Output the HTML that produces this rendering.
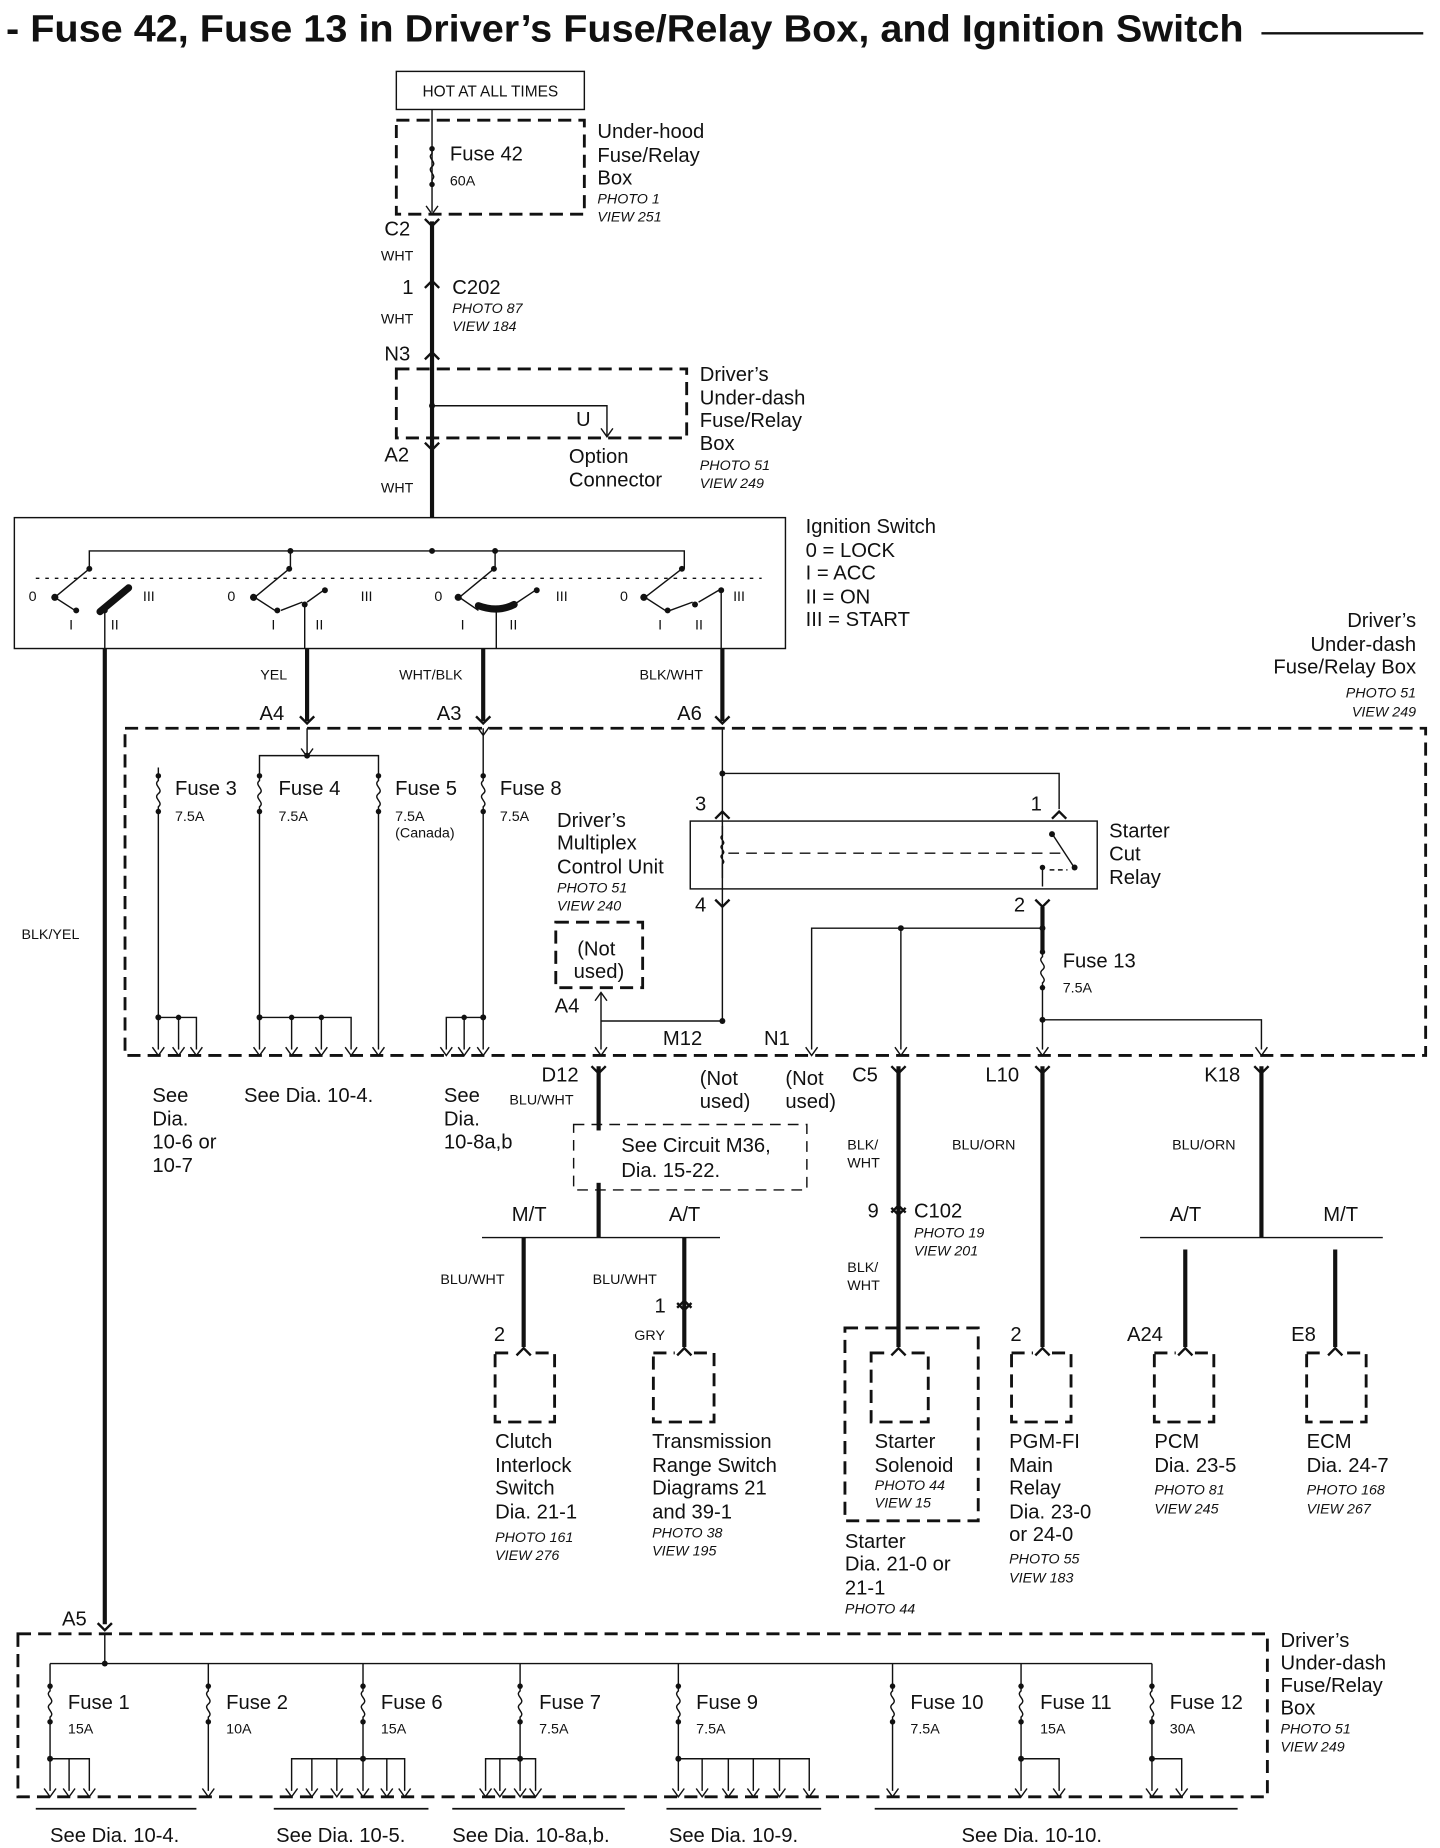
<!DOCTYPE html>
<html><head><meta charset="utf-8"><style>
html,body{margin:0;padding:0;background:#fff}
svg{display:block}
text{font-family:"Liberation Sans",Arial,sans-serif;fill:#111}
.l{font-size:17px}.s{font-size:12px}.i{font-size:12px;font-style:italic}
.tk{stroke:#111;stroke-width:3.5;fill:none}
.tn{stroke:#111;stroke-width:1.2;fill:none}
.ds{stroke:#111;stroke-width:2.4;fill:none;stroke-dasharray:11,6}
.ds2{stroke:#111;stroke-width:1.2;fill:none;stroke-dasharray:9,6}
</style></head><body>
<svg width="1440" height="1848" viewBox="0 0 1210 1553" xmlns="http://www.w3.org/2000/svg">
<defs>
<g id="fz"><circle cx="0" cy="0" r="2.3" fill="#111"/><path d="M0,0 v4 c-5,4 5,7 0,11 c-5,4 5,7 0,11 v4" stroke="#111" stroke-width="1.2" fill="none"/><circle cx="0" cy="30" r="2.3" fill="#111"/></g>
<path id="ar" d="M-5,-7 L0,0 L5,-7" stroke="#111" stroke-width="1.2" fill="none"/>
<path id="fm" d="M-6,-6 L0,0 L6,-6" stroke="#111" stroke-width="2" fill="none"/>
<path id="ml" d="M-6,6 L0,0 L6,6" stroke="#111" stroke-width="2" fill="none"/>
<circle id="dt" r="2.5" fill="#111"/>
</defs>

<!-- title -->
<text x="5" y="35" textLength="1040" lengthAdjust="spacingAndGlyphs" style="font-size:32px;font-weight:bold">- Fuse 42, Fuse 13 in Driver’s Fuse/Relay Box, and Ignition Switch</text>
<line x1="1060" y1="28" x2="1196" y2="28" stroke="#111" stroke-width="2"/>

<!-- HOT -->
<rect x="333" y="60" width="158" height="32" class="tn" stroke-width="1.6"/>
<text x="412" y="81" text-anchor="middle" class="s" style="font-size:13px">HOT AT ALL TIMES</text>
<rect x="333" y="101" width="158" height="79" class="ds"/>
<line x1="363" y1="92" x2="363" y2="178" class="tn"/>
<use href="#fz" x="363" y="125"/>
<use href="#ar" x="363" y="180"/>
<text x="378" y="135" class="l">Fuse 42</text><text x="378" y="156" class="s">60A</text>
<text x="502" y="116" class="l">Under-hood</text><text x="502" y="136" class="l">Fuse/Relay</text><text x="502" y="155" class="l">Box</text>
<text x="502" y="171" class="i">PHOTO 1</text><text x="502" y="186" class="i">VIEW 251</text>

<line x1="363" y1="186" x2="363" y2="435" class="tk"/>
<use href="#fm" x="363" y="190"/>
<text x="323" y="198" class="l">C2</text>
<text x="320" y="219" class="s">WHT</text>
<use href="#ml" x="363" y="236"/>
<text x="338" y="247" class="l">1</text>
<text x="380" y="247" class="l">C202</text><text x="380" y="263" class="i">PHOTO 87</text><text x="380" y="278" class="i">VIEW 184</text>
<text x="320" y="272" class="s">WHT</text>
<text x="323" y="303" class="l">N3</text>
<use href="#ml" x="363" y="296"/>

<rect x="333" y="310" width="244" height="58" class="ds"/>
<use href="#dt" x="363" y="341"/>
<polyline points="363,341 510,341 510,366" class="tn"/>
<use href="#ar" x="510" y="367"/>
<text x="484" y="358" class="l">U</text>
<use href="#fm" x="363" y="378"/>
<text x="588" y="320" class="l">Driver’s</text><text x="588" y="340" class="l">Under-dash</text><text x="588" y="359" class="l">Fuse/Relay</text><text x="588" y="378" class="l">Box</text>
<text x="588" y="395" class="i">PHOTO 51</text><text x="588" y="410" class="i">VIEW 249</text>
<text x="478" y="389" class="l">Option</text><text x="478" y="409" class="l">Connector</text>
<text x="323" y="388" class="l">A2</text><text x="320" y="414" class="s">WHT</text>

<!-- ignition switch -->
<rect x="12" y="435" width="648" height="110" class="tn" stroke-width="2.4"/>
<polyline points="75,478 75,463 575,463 575,478" class="tn"/>
<line x1="244" y1="463" x2="244" y2="478" class="tn"/><line x1="416" y1="463" x2="416" y2="478" class="tn"/>
<g fill="#111">
<circle cx="244" cy="463" r="2.5"/><circle cx="363" cy="463" r="2.5"/><circle cx="416" cy="463" r="2.5"/>
</g>
<line x1="30" y1="486" x2="640" y2="486" class="tn" stroke-dasharray="3,5" stroke-width="0.8"/>
<g class="tn">
<line x1="75" y1="478" x2="46" y2="502"/><line x1="46" y1="502" x2="63" y2="513"/>
<line x1="243" y1="478" x2="214" y2="502"/><line x1="214" y1="502" x2="231" y2="513"/><line x1="236" y1="513" x2="254" y2="506"/><line x1="258" y1="506" x2="272" y2="496"/>
<line x1="415" y1="478" x2="386" y2="502"/><line x1="386" y1="502" x2="402" y2="513"/><line x1="432" y1="508" x2="450" y2="496"/>
<line x1="573" y1="478" x2="542" y2="502"/><line x1="542" y1="502" x2="559" y2="513"/><line x1="563" y1="513" x2="582" y2="506"/><line x1="587" y1="506" x2="604" y2="496"/>
</g>
<g fill="#111">
<circle cx="75" cy="478" r="2.5"/><circle cx="46" cy="502" r="3"/><circle cx="64" cy="513" r="2.5"/><circle cx="88" cy="513" r="2.5"/>
<circle cx="243" cy="478" r="2.5"/><circle cx="213" cy="502" r="3"/><circle cx="233" cy="513" r="2.5"/><circle cx="256" cy="508" r="2.5"/><circle cx="273" cy="496" r="2.5"/>
<circle cx="415" cy="478" r="2.5"/><circle cx="385" cy="502" r="3"/><circle cx="451" cy="496" r="2.5"/>
<circle cx="573" cy="478" r="2.5"/><circle cx="541" cy="502" r="3"/><circle cx="561" cy="513" r="2.5"/><circle cx="584" cy="508" r="2.5"/><circle cx="606" cy="496" r="2.5"/>
</g>
<path d="M84,514 Q96,504 108,494" stroke="#111" stroke-width="6" fill="none" stroke-linecap="round"/>
<path d="M402,509 Q418,515 432,508" stroke="#111" stroke-width="6" fill="none" stroke-linecap="round"/>
<g class="s" style="font-size:12px">
<text x="24" y="505">0</text><text x="58" y="529">I</text><text x="93" y="529">II</text><text x="120" y="505">III</text>
<text x="191" y="505">0</text><text x="228" y="529">I</text><text x="265" y="529">II</text><text x="303" y="505">III</text>
<text x="365" y="505">0</text><text x="387" y="529">I</text><text x="428" y="529">II</text><text x="467" y="505">III</text>
<text x="521" y="505">0</text><text x="553" y="529">I</text><text x="584" y="529">II</text><text x="616" y="505">III</text>
</g>
<line x1="88" y1="513" x2="88" y2="545" class="tn"/><line x1="256" y1="508" x2="256" y2="545" class="tn"/>
<line x1="417" y1="512" x2="417" y2="545" class="tn"/><line x1="606" y1="496" x2="606" y2="545" class="tn"/>
<text x="677" y="448" class="l">Ignition Switch</text><text x="677" y="468" class="l">0  = LOCK</text>
<text x="677" y="487" class="l">I   = ACC</text><text x="677" y="507" class="l">II  = ON</text><text x="677" y="526" class="l">III = START</text>
<g text-anchor="end"><text x="1190" y="527" class="l">Driver’s</text><text x="1190" y="547" class="l">Under-dash</text><text x="1190" y="566" class="l">Fuse/Relay Box</text>
<text x="1190" y="586" class="i">PHOTO 51</text><text x="1190" y="602" class="i">VIEW 249</text></g>

<line x1="88" y1="545" x2="88" y2="1365" class="tk"/>
<line x1="258" y1="545" x2="258" y2="606" class="tk"/>
<line x1="406" y1="545" x2="406" y2="606" class="tk"/>
<line x1="607" y1="545" x2="607" y2="606" class="tk"/>
<use href="#fm" x="258" y="608"/><use href="#fm" x="406" y="608"/><use href="#fm" x="607" y="608"/>
<text x="230" y="571" class="s" text-anchor="middle">YEL</text><text x="362" y="571" class="s" text-anchor="middle">WHT/BLK</text><text x="564" y="571" class="s" text-anchor="middle">BLK/WHT</text>
<text x="218" y="605" class="l">A4</text><text x="367" y="605" class="l">A3</text><text x="569" y="605" class="l">A6</text>
<text x="18" y="789" class="s">BLK/YEL</text>

<rect x="105" y="612" width="1093" height="275" class="ds"/>
<g class="tn">
<line x1="133" y1="645" x2="133" y2="855"/><polyline points="133,855 165,855 165,882"/><line x1="150" y1="855" x2="150" y2="882"/><line x1="133" y1="855" x2="133" y2="882"/>
<line x1="258" y1="612" x2="258" y2="635"/><polyline points="218,855 218,635 318,635 318,882"/>
<polyline points="218,855 295,855 295,882"/><line x1="218" y1="855" x2="218" y2="882"/><line x1="245" y1="855" x2="245" y2="882"/><line x1="270" y1="855" x2="270" y2="882"/>
<line x1="406" y1="612" x2="406" y2="882"/><polyline points="406,855 375,855 375,882"/><line x1="390" y1="855" x2="390" y2="882"/>
</g>
<g fill="#fff"><rect x="128" y="652" width="10" height="30"/><rect x="213" y="652" width="10" height="30"/><rect x="313" y="652" width="10" height="30"/><rect x="401" y="652" width="10" height="30"/></g>
<use href="#fz" x="133" y="652"/><use href="#fz" x="218" y="652"/><use href="#fz" x="318" y="652"/><use href="#fz" x="406" y="652"/>
<g fill="#111"><circle cx="258" cy="635" r="2.5"/><circle cx="133" cy="855" r="2.5"/><circle cx="150" cy="855" r="2.3"/><circle cx="218" cy="855" r="2.5"/><circle cx="245" cy="855" r="2.3"/><circle cx="270" cy="855" r="2.3"/><circle cx="406" cy="855" r="2.5"/><circle cx="390" cy="855" r="2.3"/></g>
<use href="#ar" x="258" y="636"/><use href="#ar" x="406" y="618"/>
<g><use href="#ar" x="133" y="887"/><use href="#ar" x="150" y="887"/><use href="#ar" x="165" y="887"/><use href="#ar" x="218" y="887"/><use href="#ar" x="245" y="887"/><use href="#ar" x="270" y="887"/><use href="#ar" x="295" y="887"/><use href="#ar" x="318" y="887"/><use href="#ar" x="375" y="887"/><use href="#ar" x="390" y="887"/><use href="#ar" x="406" y="887"/></g>
<text x="147" y="668" class="l">Fuse 3</text><text x="147" y="690" class="s">7.5A</text>
<text x="234" y="668" class="l">Fuse 4</text><text x="234" y="690" class="s">7.5A</text>
<text x="332" y="668" class="l">Fuse 5</text><text x="332" y="690" class="s">7.5A</text><text x="332" y="704" class="s">(Canada)</text>
<text x="420" y="668" class="l">Fuse 8</text><text x="420" y="690" class="s">7.5A</text>
<text x="468" y="695" class="l">Driver’s</text><text x="468" y="714" class="l">Multiplex</text><text x="468" y="734" class="l">Control Unit</text>
<text x="468" y="750" class="i">PHOTO 51</text><text x="468" y="765" class="i">VIEW 240</text>
<rect x="467" y="775" width="73" height="55" class="ds" stroke-width="2"/>
<text x="485" y="803" class="l">(Not</text><text x="482" y="822" class="l">used)</text>
<text x="466" y="851" class="l">A4</text>
<line x1="505" y1="834" x2="505" y2="882" class="tn"/><use href="#ar" x="505" y="840" transform="rotate(180 505 837)"/>
<polyline points="505,858 607,858 607,612" class="tn"/>
<use href="#dt" x="607" y="858"/><use href="#ar" x="505" y="887"/>
<text x="557" y="878" class="l">M12</text><text x="642" y="878" class="l">N1</text>
<use href="#dt" x="607" y="650"/>
<polyline points="607,650 890,650 890,680" class="tn"/>
<use href="#ml" x="890" y="682"/><use href="#ml" x="607" y="682"/>
<text x="584" y="681" class="l">3</text><text x="866" y="681" class="l">1</text>
<rect x="580" y="690" width="342" height="57" class="tn" stroke-width="3"/>
<path d="M607,694 v8 c-4,3 4,5 0,8 c-4,3 4,5 0,8 c-4,3 4,5 0,8 v12" class="tn"/>
<line x1="612" y1="717" x2="892" y2="717" class="ds2" stroke-width="0.9"/>
<line x1="885" y1="702" x2="902" y2="728" class="tn" stroke-width="1.6"/><circle cx="903" cy="729" r="2.5" fill="#111"/><circle cx="884" cy="701" r="2.5" fill="#111"/>
<line x1="876" y1="729" x2="876" y2="745" class="tn"/><circle cx="876" cy="729" r="2.3" fill="#111"/><line x1="882" y1="731" x2="897" y2="731" class="tn" stroke-dasharray="4,3"/>
<use href="#fm" x="607" y="762"/><use href="#fm" x="876" y="762"/>
<text x="584" y="766" class="l">4</text><text x="852" y="766" class="l">2</text>
<text x="932" y="704" class="l">Starter</text><text x="932" y="723" class="l">Cut</text><text x="932" y="743" class="l">Relay</text>
<line x1="876" y1="762" x2="876" y2="800" class="tk" stroke-width="2"/>
<use href="#fz" x="876" y="800"/>
<line x1="876" y1="830" x2="876" y2="882" class="tn"/>
<polyline points="682,882 682,780 876,780" class="tn"/>
<line x1="757" y1="780" x2="757" y2="882" class="tn" stroke-width="1.6"/>
<polyline points="876,857 1060,857 1060,882" class="tn"/>
<g fill="#111"><circle cx="757" cy="780" r="2.5"/><circle cx="876" cy="780" r="2.5"/><circle cx="876" cy="857" r="2.5"/></g>
<use href="#ar" x="682" y="887"/><use href="#ar" x="757" y="887"/><use href="#ar" x="876" y="887"/><use href="#ar" x="1060" y="887"/>
<text x="893" y="813" class="l">Fuse 13</text><text x="893" y="834" class="s">7.5A</text>

<text x="128" y="926" class="l">See</text><text x="128" y="946" class="l">Dia.</text><text x="128" y="965" class="l">10-6 or</text><text x="128" y="985" class="l">10-7</text>
<text x="205" y="926" class="l">See  Dia.  10-4.</text>
<text x="373" y="926" class="l">See</text><text x="373" y="946" class="l">Dia.</text><text x="373" y="965" class="l">10-8a,b</text>

<line x1="503" y1="896" x2="503" y2="1040" class="tk"/><use href="#fm" x="503" y="902"/>
<text x="455" y="909" class="l">D12</text><text x="428" y="928" class="s">BLU/WHT</text>
<text x="588" y="912" class="l">(Not</text><text x="588" y="931" class="l">used)</text>
<text x="660" y="912" class="l">(Not</text><text x="660" y="931" class="l">used)</text>
<text x="716" y="909" class="l">C5</text><text x="828" y="909" class="l">L10</text><text x="1012" y="909" class="l">K18</text>
<rect x="482" y="945" width="196" height="55" class="ds2"/>
<rect x="498" y="950" width="10" height="44" fill="#fff"/>
<text x="522" y="968" class="l">See Circuit M36,</text><text x="522" y="989" class="l">Dia.  15-22.</text>
<text x="430" y="1026" class="l">M/T</text><text x="562" y="1026" class="l">A/T</text>
<line x1="405" y1="1040" x2="605" y2="1040" class="tn" stroke-width="2"/>
<line x1="440" y1="1040" x2="440" y2="1138" class="tk"/>
<line x1="575" y1="1040" x2="575" y2="1138" class="tk"/>
<use href="#ml" x="575" y="1093"/><use href="#fm" x="575" y="1101"/>
<text x="370" y="1079" class="s">BLU/WHT</text><text x="498" y="1079" class="s">BLU/WHT</text>
<text x="550" y="1103" class="l">1</text><text x="533" y="1126" class="s">GRY</text><text x="415" y="1127" class="l">2</text>

<line x1="755" y1="896" x2="755" y2="1138" class="tk"/><use href="#fm" x="755" y="902"/>
<use href="#ml" x="755" y="1013"/><use href="#fm" x="755" y="1021"/>
<text x="712" y="966" class="s">BLK/</text><text x="712" y="981" class="s">WHT</text>
<text x="729" y="1023" class="l">9</text><text x="768" y="1023" class="l">C102</text><text x="768" y="1040" class="i">PHOTO 19</text><text x="768" y="1055" class="i">VIEW 201</text>
<text x="712" y="1069" class="s">BLK/</text><text x="712" y="1084" class="s">WHT</text>
<line x1="876" y1="896" x2="876" y2="1138" class="tk"/><use href="#fm" x="876" y="902"/>
<text x="800" y="966" class="s">BLU/ORN</text><text x="849" y="1127" class="l">2</text>
<line x1="1060" y1="896" x2="1060" y2="1040" class="tk"/><use href="#fm" x="1060" y="902"/>
<text x="985" y="966" class="s">BLU/ORN</text>
<text x="983" y="1026" class="l">A/T</text><text x="1112" y="1026" class="l">M/T</text>
<line x1="958" y1="1040" x2="1162" y2="1040" class="tn" stroke-width="2"/>
<line x1="996" y1="1050" x2="996" y2="1138" class="tk"/><line x1="1122" y1="1050" x2="1122" y2="1138" class="tk"/>
<text x="947" y="1127" class="l">A24</text><text x="1085" y="1127" class="l">E8</text>

<g class="ds" stroke-width="2">
<rect x="416" y="1137" width="50" height="58"/><rect x="549" y="1137" width="51" height="58"/>
<rect x="732" y="1137" width="48" height="58"/><rect x="850" y="1137" width="50" height="58"/>
<rect x="970" y="1137" width="50" height="58"/><rect x="1098" y="1137" width="50" height="58"/>
<rect x="710" y="1116" width="112" height="162"/>
</g>
<g fill="#fff"><rect x="432" y="1132" width="16" height="8"/><rect x="567" y="1132" width="16" height="8"/><rect x="747" y="1132" width="16" height="8"/><rect x="868" y="1132" width="16" height="8"/><rect x="988" y="1132" width="16" height="8"/><rect x="1114" y="1132" width="16" height="8"/></g>
<use href="#ml" x="440" y="1133"/><use href="#ml" x="575" y="1133"/><use href="#ml" x="755" y="1133"/><use href="#ml" x="876" y="1133"/><use href="#ml" x="996" y="1133"/><use href="#ml" x="1122" y="1133"/>
<text x="416" y="1217" class="l">Clutch</text><text x="416" y="1237" class="l">Interlock</text><text x="416" y="1256" class="l">Switch</text><text x="416" y="1276" class="l">Dia.  21-1</text>
<text x="416" y="1296" class="i">PHOTO 161</text><text x="416" y="1311" class="i">VIEW 276</text>
<text x="548" y="1217" class="l">Transmission</text><text x="548" y="1237" class="l">Range Switch</text><text x="548" y="1256" class="l">Diagrams 21</text><text x="548" y="1276" class="l">and 39-1</text>
<text x="548" y="1292" class="i">PHOTO 38</text><text x="548" y="1307" class="i">VIEW 195</text>
<text x="735" y="1217" class="l">Starter</text><text x="735" y="1237" class="l">Solenoid</text><text x="735" y="1252" class="i">PHOTO 44</text><text x="735" y="1267" class="i">VIEW 15</text>
<text x="710" y="1301" class="l">Starter</text><text x="710" y="1320" class="l">Dia.  21-0 or</text><text x="710" y="1340" class="l">21-1</text><text x="710" y="1356" class="i">PHOTO 44</text>
<text x="848" y="1217" class="l">PGM-FI</text><text x="848" y="1237" class="l">Main</text><text x="848" y="1256" class="l">Relay</text><text x="848" y="1276" class="l">Dia.  23-0</text><text x="848" y="1295" class="l">or 24-0</text>
<text x="848" y="1314" class="i">PHOTO 55</text><text x="848" y="1330" class="i">VIEW 183</text>
<text x="970" y="1217" class="l">PCM</text><text x="970" y="1237" class="l">Dia.  23-5</text><text x="970" y="1256" class="i">PHOTO 81</text><text x="970" y="1272" class="i">VIEW 245</text>
<text x="1098" y="1217" class="l">ECM</text><text x="1098" y="1237" class="l">Dia.  24-7</text><text x="1098" y="1256" class="i">PHOTO 168</text><text x="1098" y="1272" class="i">VIEW 267</text>

<text x="52" y="1366" class="l">A5</text>
<use href="#fm" x="88" y="1370"/>
<rect x="15" y="1373" width="1050" height="137" class="ds"/>
<line x1="88" y1="1373" x2="88" y2="1398" class="tn"/>
<line x1="42" y1="1398" x2="968" y2="1398" class="tn"/>
<use href="#dt" x="88" y="1398"/>
<g class="tn">
<line x1="42" y1="1398" x2="42" y2="1505"/><line x1="175" y1="1398" x2="175" y2="1505"/><line x1="305" y1="1398" x2="305" y2="1505"/>
<line x1="437" y1="1398" x2="437" y2="1505"/><line x1="570" y1="1398" x2="570" y2="1505"/><line x1="750" y1="1398" x2="750" y2="1505"/>
<line x1="858" y1="1398" x2="858" y2="1505"/><line x1="968" y1="1398" x2="968" y2="1505"/>
<polyline points="42,1478 75,1478 75,1505"/><line x1="58" y1="1478" x2="58" y2="1505"/>
<polyline points="245,1505 245,1478 340,1478 340,1505"/><line x1="262" y1="1478" x2="262" y2="1505"/><line x1="283" y1="1478" x2="283" y2="1505"/><line x1="325" y1="1478" x2="325" y2="1505"/>
<polyline points="408,1505 408,1478 450,1478 450,1505"/><line x1="420" y1="1478" x2="420" y2="1505"/>
<polyline points="570,1478 680,1478 680,1505"/><line x1="590" y1="1478" x2="590" y2="1505"/><line x1="612" y1="1478" x2="612" y2="1505"/><line x1="633" y1="1478" x2="633" y2="1505"/><line x1="655" y1="1478" x2="655" y2="1505"/>
<polyline points="858,1478 890,1478 890,1505"/><polyline points="968,1478 993,1478 993,1505"/>
</g>
<g fill="#fff"><rect x="37" y="1417" width="10" height="30"/><rect x="170" y="1417" width="10" height="30"/><rect x="300" y="1417" width="10" height="30"/><rect x="432" y="1417" width="10" height="30"/><rect x="565" y="1417" width="10" height="30"/><rect x="745" y="1417" width="10" height="30"/><rect x="853" y="1417" width="10" height="30"/><rect x="963" y="1417" width="10" height="30"/></g>
<use href="#fz" x="42" y="1417"/><use href="#fz" x="175" y="1417"/><use href="#fz" x="305" y="1417"/><use href="#fz" x="437" y="1417"/><use href="#fz" x="570" y="1417"/><use href="#fz" x="750" y="1417"/><use href="#fz" x="858" y="1417"/><use href="#fz" x="968" y="1417"/>
<g fill="#111"><circle cx="42" cy="1478" r="2.5"/><circle cx="305" cy="1478" r="2.5"/><circle cx="437" cy="1478" r="2.5"/><circle cx="570" cy="1478" r="2.5"/><circle cx="858" cy="1478" r="2.5"/><circle cx="968" cy="1478" r="2.5"/></g>
<g>
<use href="#ar" x="42" y="1510"/><use href="#ar" x="58" y="1510"/><use href="#ar" x="75" y="1510"/><use href="#ar" x="175" y="1510"/>
<use href="#ar" x="245" y="1510"/><use href="#ar" x="262" y="1510"/><use href="#ar" x="283" y="1510"/><use href="#ar" x="305" y="1510"/><use href="#ar" x="325" y="1510"/><use href="#ar" x="340" y="1510"/>
<use href="#ar" x="408" y="1510"/><use href="#ar" x="420" y="1510"/><use href="#ar" x="437" y="1510"/><use href="#ar" x="450" y="1510"/>
<use href="#ar" x="570" y="1510"/><use href="#ar" x="590" y="1510"/><use href="#ar" x="612" y="1510"/><use href="#ar" x="633" y="1510"/><use href="#ar" x="655" y="1510"/><use href="#ar" x="680" y="1510"/>
<use href="#ar" x="750" y="1510"/><use href="#ar" x="858" y="1510"/><use href="#ar" x="890" y="1510"/><use href="#ar" x="968" y="1510"/><use href="#ar" x="993" y="1510"/>
</g>
<text x="57" y="1436" class="l">Fuse 1</text><text x="57" y="1457" class="s">15A</text>
<text x="190" y="1436" class="l">Fuse 2</text><text x="190" y="1457" class="s">10A</text>
<text x="320" y="1436" class="l">Fuse 6</text><text x="320" y="1457" class="s">15A</text>
<text x="453" y="1436" class="l">Fuse 7</text><text x="453" y="1457" class="s">7.5A</text>
<text x="585" y="1436" class="l">Fuse 9</text><text x="585" y="1457" class="s">7.5A</text>
<text x="765" y="1436" class="l">Fuse 10</text><text x="765" y="1457" class="s">7.5A</text>
<text x="874" y="1436" class="l">Fuse 11</text><text x="874" y="1457" class="s">15A</text>
<text x="983" y="1436" class="l">Fuse 12</text><text x="983" y="1457" class="s">30A</text>
<text x="1076" y="1384" class="l">Driver’s</text><text x="1076" y="1403" class="l">Under-dash</text><text x="1076" y="1422" class="l">Fuse/Relay</text><text x="1076" y="1441" class="l">Box</text>
<text x="1076" y="1457" class="i">PHOTO 51</text><text x="1076" y="1472" class="i">VIEW 249</text>
<g stroke="#111" stroke-width="1.5"><line x1="30" y1="1520" x2="165" y2="1520"/><line x1="230" y1="1520" x2="360" y2="1520"/><line x1="380" y1="1520" x2="525" y2="1520"/><line x1="560" y1="1520" x2="690" y2="1520"/><line x1="735" y1="1520" x2="1040" y2="1520"/></g>
<text x="42" y="1548" class="l">See  Dia.  10-4.</text><text x="232" y="1548" class="l">See  Dia.  10-5.</text>
<text x="380" y="1548" class="l">See  Dia.  10-8a,b.</text><text x="562" y="1548" class="l">See  Dia.  10-9.</text>
<text x="808" y="1548" class="l">See  Dia.  10-10.</text>
</svg>
</body></html>
